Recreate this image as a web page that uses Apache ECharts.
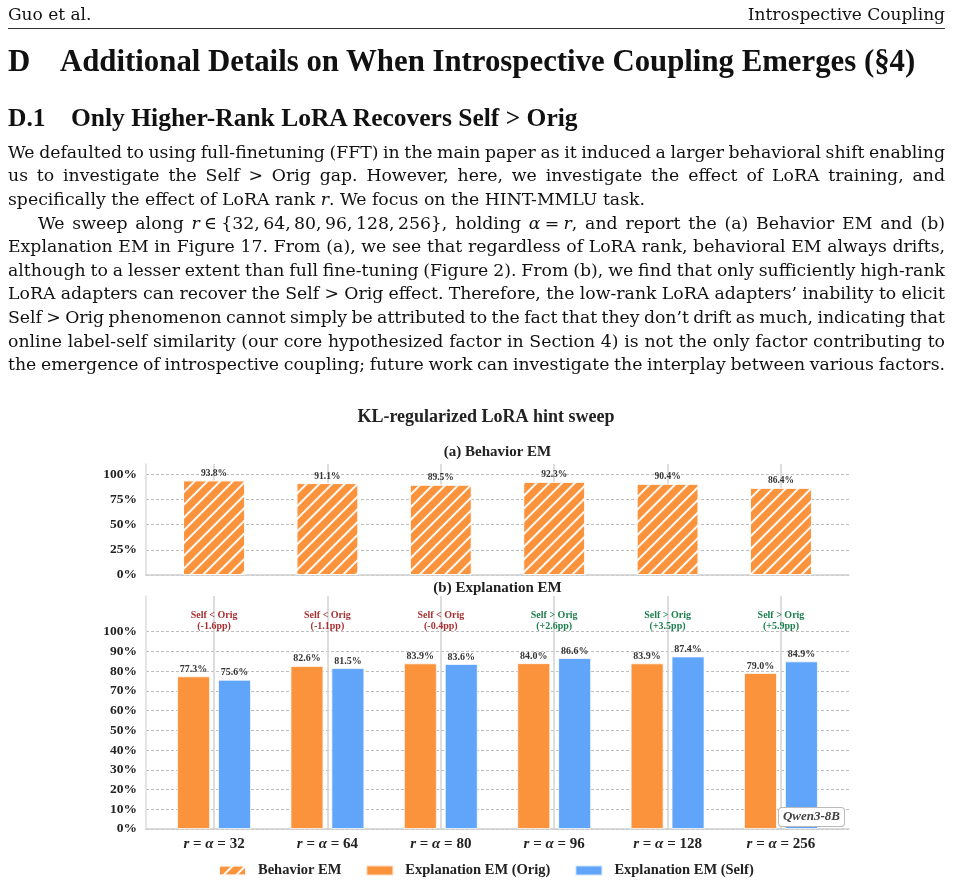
<!DOCTYPE html>
<html>
<head>
<meta charset="utf-8">
<script src="https://cdn.jsdelivr.net/npm/echarts@6/dist/echarts.min.js"></script>
<style>
  html, body { margin: 0; padding: 0; background: #fff; }
  #page { position: relative; width: 953px; height: 886px; overflow: hidden; }
  #chart { position: absolute; left: 0; top: 0; width: 953px; height: 886px; }
  .t { position: absolute; white-space: nowrap; color: #111; z-index: 2; }
  .hd { font-family: "DejaVu Serif", serif; font-size: 17px; line-height: 17px; top: 6.4px; }
  .h1 { font-family: "Liberation Serif", serif; font-weight: bold; font-size: 30.8px; line-height: 30.8px; top: 45.9px; }
  .h2 { font-family: "Liberation Serif", serif; font-weight: bold; font-size: 25.5px; line-height: 25.5px; top: 104.6px; }
  .body { font-family: "DejaVu Serif", serif; font-size: 17.3px; line-height: 17.3px; }
  .rule { position: absolute; left: 8px; width: 937px; top: 28px; height: 1px; background: #333; }
</style>
</head>
<body>
<div id="page">
  <div id="chart"></div>
  <div class="t hd" style="left:8px">Guo et al.</div>
  <div class="t hd" style="right:8px">Introspective Coupling</div>
  <div class="rule"></div>
  <div class="t h1" style="left:8px">D</div>
  <div class="t h1" style="left:60px">Additional Details on When Introspective Coupling Emerges (§4)</div>
  <div class="t h2" style="left:8px">D.1</div>
  <div class="t h2" style="left:71px">Only Higher-Rank LoRA Recovers Self &gt; Orig</div>
</div>
<script>
// ---- data ----
const rankLabels = ['32', '64', '80', '96', '128', '256'];
const behaviorEM = [93.8, 91.1, 89.5, 92.3, 90.4, 86.4];
const explOrig = [77.3, 82.6, 83.9, 84.0, 83.9, 79.0];
const explSelf = [75.6, 81.5, 83.6, 86.6, 87.4, 84.9];
const gapPP = [-1.6, -1.1, -0.4, 2.6, 3.5, 5.9];
const seriesNames = ['Behavior EM', 'Explanation EM (Orig)', 'Explanation EM (Self)'];

// ---- page text ----
const bodyLines = [
  { html: 'We defaulted to using full-finetuning (FFT) in the main paper as it induced a larger behavioral shift enabling', j: true },
  { html: 'us to investigate the Self &gt; Orig gap. However, here, we investigate the effect of LoRA training, and', j: true },
  { html: 'specifically the effect of LoRA rank <i>r</i>. We focus on the HINT-MMLU task.', j: false },
  { html: 'We sweep along <i>r</i>\u2005∈\u2005{32,\u200964,\u200980,\u200996,\u2009128,\u2009256}, holding <i>α</i>\u2005=\u2005<i>r</i>, and report the (a) Behavior EM and (b)', j: true, indent: 30 },
  { html: 'Explanation EM in Figure 17. From (a), we see that regardless of LoRA rank, behavioral EM always drifts,', j: true },
  { html: 'although to a lesser extent than full fine-tuning (Figure 2). From (b), we find that only sufficiently high-rank', j: true },
  { html: 'LoRA adapters can recover the Self &gt; Orig effect. Therefore, the low-rank LoRA adapters’ inability to elicit', j: true },
  { html: 'Self &gt; Orig phenomenon cannot simply be attributed to the fact that they don’t drift as much, indicating that', j: true },
  { html: 'online label-self similarity (our core hypothesized factor in Section 4) is not the only factor contributing to', j: true },
  { html: 'the emergence of introspective coupling; future work can investigate the interplay between various factors.', j: true }
];

const page = document.getElementById('page');
const spans = [];
bodyLines.forEach((ln, k) => {
  const d = document.createElement('div');
  d.className = 't body';
  d.style.left = (8 + (ln.indent || 0)) + 'px';
  d.style.top = (143.7 + 23.6 * k) + 'px';
  const s = document.createElement('span');
  s.innerHTML = ln.html;
  d.appendChild(s);
  page.appendChild(d);
  if (ln.j) spans.push({ s, avail: 937 - (ln.indent || 0) });
});

function justify() {
  spans.forEach(({ s, avail }) => {
    s.style.wordSpacing = '0px';
    const w = s.getBoundingClientRect().width;
    const n = s.textContent.split(' ').length - 1;
    if (n > 0) s.style.wordSpacing = ((avail - w) / n) + 'px';
  });
}
justify();
if (document.fonts && document.fonts.ready) document.fonts.ready.then(justify);

// ---- chart ----
const FONT = '"Liberation Serif", "Times New Roman", serif';
const ORANGE = '#FB923C';
const BLUE = '#60A5FA';
const RED = '#A83232';
const GREEN = '#1F8050';

const chart = echarts.init(document.getElementById('chart'));

const hatch = {
  symbol: 'rect',
  symbolSize: 1,
  color: 'rgba(255,255,255,0.95)',
  dashArrayX: [1, 0],
  dashArrayY: [2, 7],
  rotation: -Math.PI / 4
};

const isInt = v => Math.abs(v - Math.round(v)) < 1e-6;

function xAxisFor(gridIndex, withLabels) {
  return {
    type: 'value',
    gridIndex,
    min: -0.6,
    max: 5.6,
    axisLine: { onZero: false, lineStyle: { color: '#cfcfcf', width: 1.5 } },
    axisTick: { show: false },
    splitLine: {
      show: true, showMinLine: false, showMaxLine: false,
      lineStyle: { color: '#d2d2d2', width: 1.5 }
    },
    axisLabel: {
      show: withLabels,
      margin: 8,
      color: '#222',
      fontFamily: FONT,
      fontWeight: 'bold',
      fontSize: 15,
      formatter: v => (isInt(v) && rankLabels[Math.round(v)] !== undefined)
        ? '{i|r} = {i|α} = ' + rankLabels[Math.round(v)] : '',
      rich: { i: { fontStyle: 'italic', fontWeight: 'bold', fontSize: 15, fontFamily: FONT, color: '#222' } }
    }
  };
}

function yAxisFor(gridIndex, max, interval, nLines) {
  const colors = [];
  for (let i = 0; i < nLines; i++) colors.push('#bdbdbd');
  colors.push('rgba(0,0,0,0)', 'rgba(0,0,0,0)', 'rgba(0,0,0,0)');
  return {
    type: 'value',
    gridIndex,
    min: 0,
    max,
    interval,
    axisLine: { show: true, onZero: false, lineStyle: { color: '#dcdcdc', width: 1.5 } },
    axisTick: { show: false },
    splitLine: {
      show: true, showMaxLine: false,
      lineStyle: { color: colors, type: [3, 2], width: 1 }
    },
    axisLabel: {
      margin: 9,
      color: '#222',
      fontFamily: FONT,
      fontWeight: 'bold',
      fontSize: 13.5,
      formatter: v => (v <= 100 ? v + '%' : '')
    }
  };
}

const valueLabel = size => ({
  show: true,
  position: 'top',
  distance: 2,
  fontFamily: FONT,
  fontWeight: 'bold',
  fontSize: size,
  color: '#333',
  formatter: p => p.value[1].toFixed(1) + '%'
});

const option = {
  animation: false,
  grid: [
    { left: 146, top: 464, width: 703, height: 111 },
    { left: 146, top: 596, width: 703, height: 233 }
  ],
  xAxis: [xAxisFor(0, false), xAxisFor(1, true)],
  yAxis: [yAxisFor(0, 110, 25, 5), yAxisFor(1, 118, 10, 11)],
  legend: {
    data: seriesNames,
    left: 218,
    top: 863,
    padding: 0,
    itemWidth: 27,
    itemHeight: 10,
    itemGap: 24,
    icon: 'rect',
    textStyle: { fontFamily: FONT, fontWeight: 'bold', fontSize: 14.5, color: '#222', padding: [0, 0, 0, 7] }
  },
  graphic: [
    {
      type: 'text', x: 486, y: 417, z: 100,
      style: { text: 'KL-regularized LoRA hint sweep', font: 'bold 18px ' + FONT, fill: '#222', align: 'center', verticalAlign: 'middle' }
    },
    {
      type: 'text', x: 497.5, y: 452, z: 100,
      style: { text: '(a) Behavior EM', font: 'bold 15px ' + FONT, fill: '#222', align: 'center', verticalAlign: 'middle' }
    },
    {
      type: 'text', x: 497.5, y: 588, z: 100,
      style: { text: '(b) Explanation EM', font: 'bold 15px ' + FONT, fill: '#222', align: 'center', verticalAlign: 'middle' }
    },
    {
      type: 'text', x: 811.5, y: 817, z: 100,
      style: {
        text: 'Qwen3-8B', font: 'italic bold 13px ' + FONT, fill: '#444',
        align: 'center', verticalAlign: 'middle',
        backgroundColor: '#fff', borderColor: '#bbb', borderWidth: 1, borderRadius: 3, padding: [3, 4, 2, 4]
      }
    }
  ],
  series: [
    {
      name: seriesNames[0],
      type: 'bar',
      xAxisIndex: 0,
      yAxisIndex: 0,
      barWidth: 62,
      data: behaviorEM.map((v, i) => [i, v]),
      itemStyle: { color: ORANGE, decal: hatch, borderColor: 'rgba(255,255,255,0.7)', borderWidth: 1 },
      label: valueLabel(9.5)
    },
    {
      name: seriesNames[1],
      type: 'bar',
      xAxisIndex: 1,
      yAxisIndex: 1,
      barWidth: 33,
      barGap: '24%',
      data: explOrig.map((v, i) => [i, v]),
      itemStyle: { color: ORANGE, borderColor: 'rgba(255,255,255,0.7)', borderWidth: 1 },
      label: valueLabel(10)
    },
    {
      name: seriesNames[2],
      type: 'bar',
      xAxisIndex: 1,
      yAxisIndex: 1,
      barWidth: 33,
      barGap: '24%',
      data: explSelf.map((v, i) => [i, v]),
      itemStyle: { color: BLUE, borderColor: 'rgba(255,255,255,0.7)', borderWidth: 1 },
      label: valueLabel(10)
    },
    {
      name: 'gap',
      type: 'scatter',
      xAxisIndex: 1,
      yAxisIndex: 1,
      symbolSize: 0,
      silent: true,
      z: 5,
      itemStyle: { opacity: 1 },
      data: gapPP.map((g, i) => ({
        value: [i, 105.5],
        label: { color: g < 0 ? RED : GREEN }
      })),
      label: {
        show: true,
        position: 'inside',
        opacity: 1,
        fontFamily: FONT,
        fontWeight: 'bold',
        fontSize: 10,
        lineHeight: 11,
        formatter: p => {
          const g = gapPP[p.dataIndex];
          return (g < 0 ? 'Self < Orig' : 'Self > Orig') + '\n(' + (g > 0 ? '+' : '') + g.toFixed(1) + 'pp)';
        }
      }
    }
  ]
};

chart.setOption(option);
window.addEventListener('resize', () => chart.resize());
</script>
</body>
</html>
